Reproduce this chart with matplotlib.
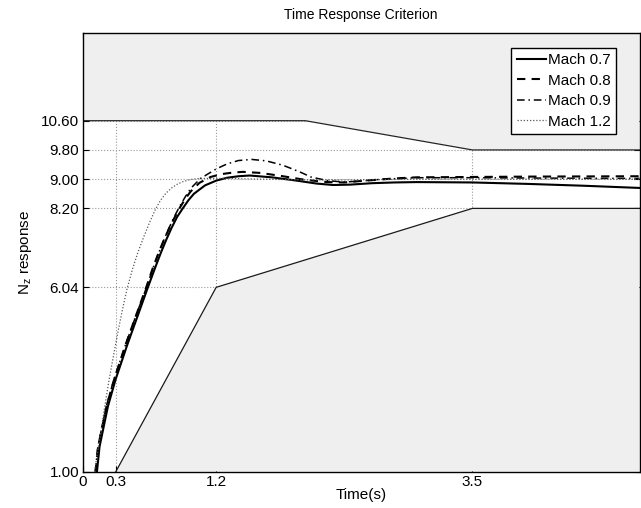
import matplotlib
matplotlib.use("Agg")
import matplotlib.pyplot as plt
from matplotlib.patches import Polygon

plt.rcParams['font.family'] = ['Liberation Sans', 'DejaVu Sans']

# ---- data -------------------------------------------------------------
t_m07 = [0.13, 0.153, 0.228, 0.296, 0.40, 0.50, 0.587, 0.65, 0.70, 0.75, 0.80,
         0.85, 0.90, 0.95, 1.00, 1.10, 1.20, 1.30, 1.40, 1.50, 1.70, 1.90, 2.10,
         2.25, 2.40, 2.60, 2.80, 3.00, 3.50, 4.00, 4.50, 5.00]
y_m07 = [1.00, 1.68, 2.78, 3.51, 4.45, 5.30, 6.04, 6.56, 6.96, 7.33, 7.67,
         7.97, 8.20, 8.42, 8.60, 8.83, 8.96, 9.04, 9.08, 9.10, 9.05, 8.97, 8.88,
         8.84, 8.85, 8.89, 8.91, 8.92, 8.91, 8.87, 8.82, 8.76]

t_m08 = [0.117, 0.14, 0.215, 0.283, 0.39, 0.49, 0.572, 0.63, 0.68, 0.73, 0.78,
         0.83, 0.87, 0.92, 0.97, 1.05, 1.15, 1.25, 1.35, 1.44, 1.60, 1.80, 2.00,
         2.20, 2.35, 2.50, 2.80, 3.00, 3.50, 4.00, 5.00]
y_m08 = [1.00, 1.68, 2.78, 3.51, 4.50, 5.35, 6.04, 6.56, 6.96, 7.33, 7.67,
         7.97, 8.20, 8.45, 8.66, 8.90, 9.06, 9.14, 9.18, 9.20, 9.17, 9.08, 8.98,
         8.92, 8.91, 8.95, 9.02, 9.05, 9.06, 9.07, 9.08]

t_m09 = [0.115, 0.138, 0.213, 0.281, 0.39, 0.49, 0.575, 0.635, 0.685, 0.735, 0.785,
         0.835, 0.875, 0.925, 0.975, 1.06, 1.20, 1.30, 1.40, 1.52, 1.65, 1.80,
         1.95, 2.05, 2.20, 2.35, 2.50, 2.70, 3.00, 3.50, 4.00, 5.00]
y_m09 = [1.00, 1.68, 2.78, 3.51, 4.50, 5.35, 6.04, 6.58, 6.99, 7.37, 7.72,
         8.04, 8.27, 8.53, 8.76, 9.02, 9.28, 9.42, 9.51, 9.54, 9.50, 9.38,
         9.20, 9.06, 8.96, 8.92, 8.95, 9.00, 9.04, 9.04, 9.03, 9.02]

t_m12 = [0.108, 0.14, 0.168, 0.20, 0.235, 0.28, 0.32, 0.36, 0.40, 0.45, 0.50,
         0.55, 0.60, 0.654, 0.70, 0.75, 0.80, 0.85, 0.90, 0.967, 1.05, 1.30,
         1.60, 2.00, 2.40, 3.00, 3.50, 4.00, 5.00]
y_m12 = [1.00, 1.62, 2.14, 2.78, 3.45, 4.20, 4.85, 5.45, 6.00, 6.55, 7.02,
         7.42, 7.80, 8.17, 8.42, 8.62, 8.76, 8.86, 8.93, 8.99, 9.02, 9.02,
         9.00, 8.98, 8.98, 9.00, 9.00, 9.00, 9.00]

upper_t = [0.0, 2.0, 3.5, 5.0]
upper_y = [10.60, 10.60, 9.80, 9.80]
lower_t = [0.3, 1.2, 3.5, 5.0]
lower_y = [1.00, 6.04, 8.20, 8.20]

xticks = [0, 0.3, 1.2, 3.5]
xtick_labels = ['0', '0.3', '1.2', '3.5']
yticks = [1.00, 6.04, 8.20, 9.00, 9.80, 10.60]
ytick_labels = ['1.00', '6.04', '8.20', '9.00', '9.80', '10.60']
legend_labels = ['Mach 0.7', 'Mach 0.8', 'Mach 0.9', 'Mach 1.2']

# ---- figure -----------------------------------------------------------
W, H = 641, 508
fig = plt.figure(figsize=(W / 100, H / 100), dpi=100)
ax = fig.add_axes([82.5 / W, (H - 471.5) / H, (639.5 - 82.5) / W, (471.5 - 33) / H])
xmin, xmax, ymin, ymax = 0, 5, 1, 13
ax.set_xlim(xmin, xmax)
ax.set_ylim(ymin, ymax)

# grid (beneath patches)
ax.set_axisbelow(True)
ax.grid(True, linestyle=':', color='0.6', linewidth=0.8, zorder=0)

fill = '#efefef'
up_poly = list(zip(upper_t, upper_y)) + [(xmax, ymax), (xmin, ymax)]
lo_poly = list(zip(lower_t, lower_y)) + [(xmax, ymin), (lower_t[0], ymin)]
ax.add_patch(Polygon(up_poly, closed=True, facecolor=fill, edgecolor='none', zorder=1))
ax.add_patch(Polygon(lo_poly, closed=True, facecolor=fill, edgecolor='none', zorder=1))
ax.plot(upper_t, upper_y, color='0.15', lw=0.9, zorder=2)
ax.plot(lower_t, lower_y, color='0.1', lw=0.9, zorder=2)

ax.plot(t_m07, y_m07, color='black', lw=1.5, ls='-', label=legend_labels[0], zorder=4)
ax.plot(t_m08, y_m08, color='black', lw=1.5, ls=(0, (4, 3)), label=legend_labels[1], zorder=4)
ax.plot(t_m09, y_m09, color='black', lw=1.1, ls=(0, (5, 2.5, 1, 2.5)), label=legend_labels[2], zorder=4)
ax.plot(t_m12, y_m12, color='0.35', lw=0.9, ls=(0, (1, 1.5)), label=legend_labels[3], zorder=4)

ax.set_xticks(xticks)
ax.set_xticklabels(xtick_labels)
ax.set_yticks(yticks)
ax.set_yticklabels(ytick_labels)
ax.tick_params(direction='in', length=4, width=0.8, labelsize=11,
               top=True, right=True, pad=2.5)
for s in ax.spines.values():
    s.set_linewidth(1.0)
    s.set_zorder(6)

ax.set_title('Time Response Criterion', fontsize=10, pad=10)
ax.set_xlabel('Time(s)', fontsize=11, labelpad=-1)
ax.set_ylabel(r'$\mathregular{N_z}$ response', fontsize=11, labelpad=5)

leg = ax.legend(loc='upper right', bbox_to_anchor=(616 / W, (H - 48) / H),
                bbox_transform=fig.transFigure, fontsize=11, frameon=True,
                fancybox=False, edgecolor='black', framealpha=1,
                handlelength=1.9, handletextpad=0.15, borderpad=0.35,
                labelspacing=0.42, borderaxespad=0)
leg.get_frame().set_linewidth(1.0)
leg.set_zorder(10)

fig.savefig('out.png', dpi=100)
